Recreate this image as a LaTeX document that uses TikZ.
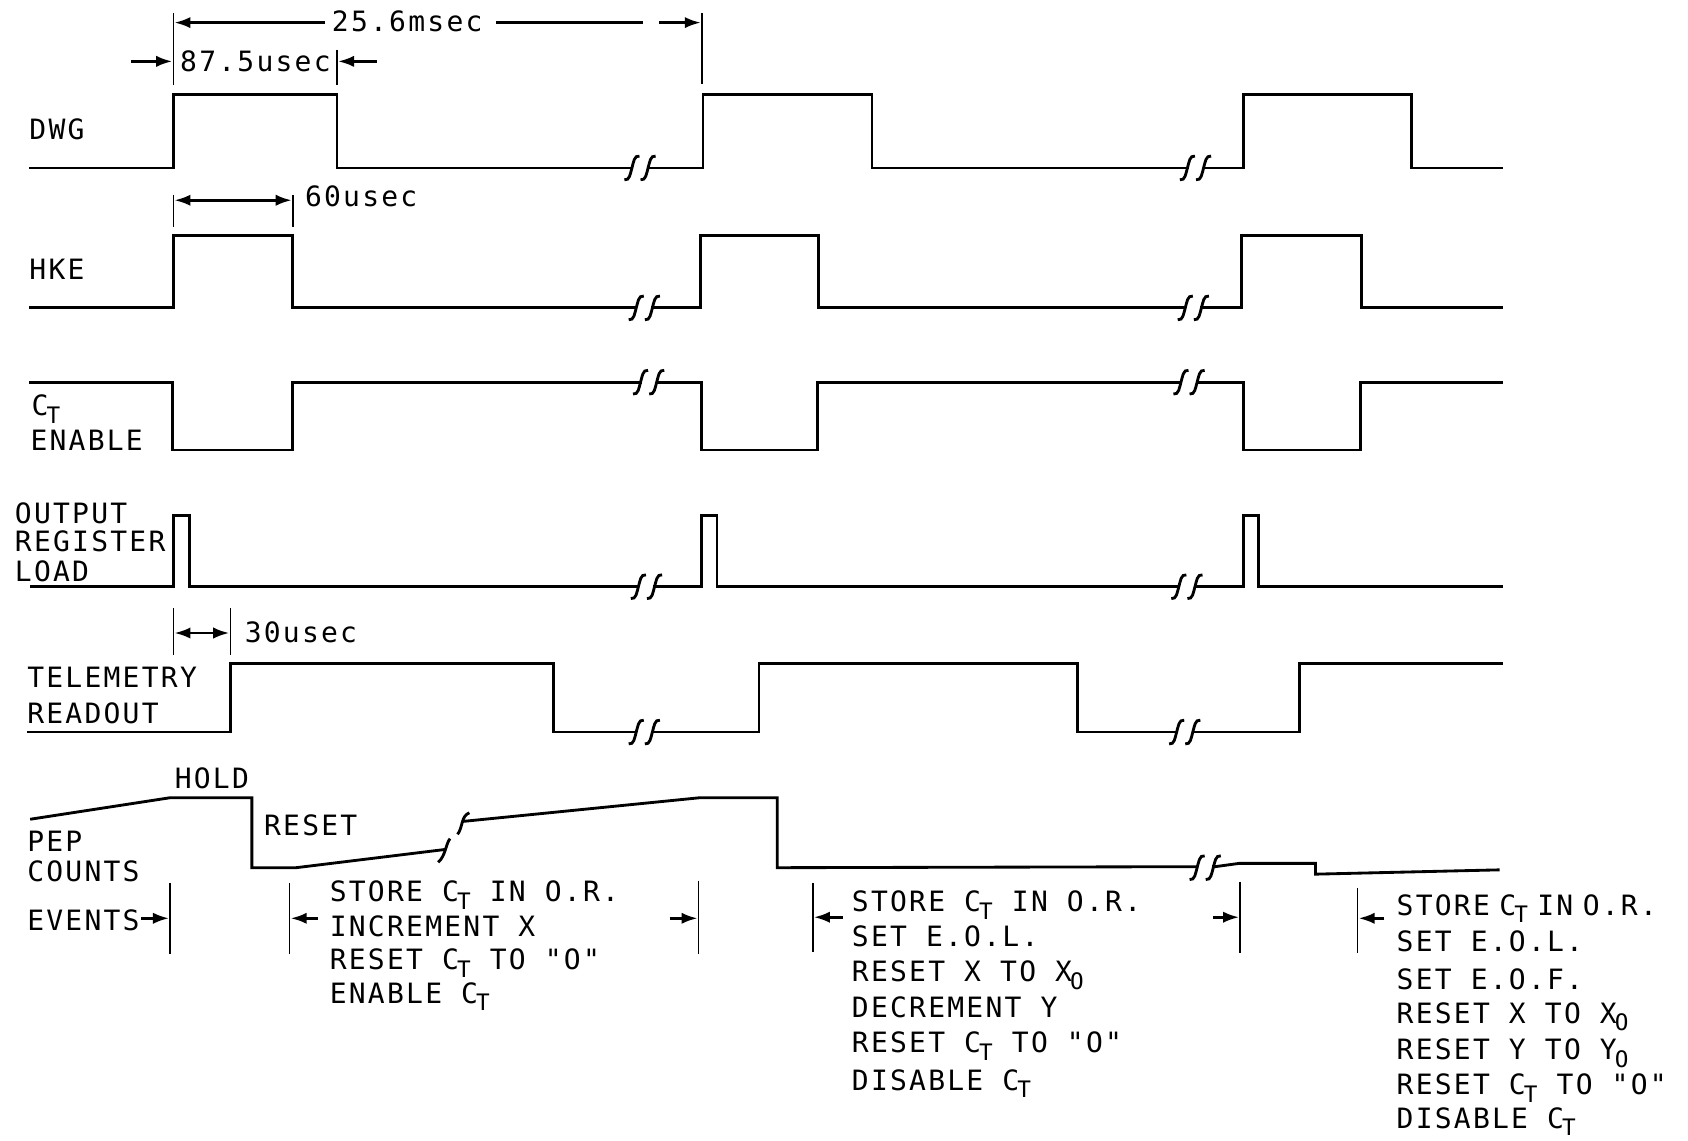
\documentclass[tikz,border=0pt]{standalone}
\usepackage{fontspec}
\newfontfamily\lettering[LetterSpace=8]{DejaVu Sans Mono}
\usetikzlibrary{arrows.meta}
\newcommand\lowsub[1]{\kern-1pt\raisebox{-4pt}{\fontsize{12}{12}\selectfont #1}}
\begin{document}
\begin{tikzpicture}[x=0.02cm,y=-0.02cm,
  wave/.style={line width=1.5pt},
  tickline/.style={line width=0.8pt},
  dimarrow/.style={line width=1.4pt,-{Latex[length=8.5pt,width=6pt]}},
  dimboth/.style={line width=1.4pt,{Latex[length=8.5pt,width=6pt]}-{Latex[length=8.5pt,width=6pt]}},
  lbl/.style={anchor=base west,inner sep=0pt,font=\lettering\fontsize{14.8}{16}\selectfont},
  breakmark/.pic={
    \fill[white] (-6,-3) rectangle (7,3);
    \draw[line width=1.5pt] (-14,11) .. controls (-9,12) and (-8.5,5) .. (-7,0) .. controls (-5.5,-5) and (-5,-12) .. (0,-11);
    \draw[line width=1.5pt] (1,11) .. controls (6,12) and (6.5,5) .. (8,0) .. controls (9.5,-5) and (10,-12) .. (15,-11);
  }]
\fill[white] (0,0) rectangle (1568,1059);
\useasboundingbox (0,0) rectangle (1568,1059);

% ---------------- waveforms ----------------
% DWG
\draw[wave] (27,156) -- (161,156) -- (161,88) -- (313,88) -- (313,156) -- (653,156) -- (653,88) -- (810,88) -- (810,156) -- (1155,156) -- (1155,88) -- (1311,88) -- (1311,156) -- (1396,156);
\pic at (594,156) {breakmark}; \pic at (1110,156) {breakmark};
% HKE
\draw[wave] (27,286) -- (161,286) -- (161,219) -- (272,219) -- (272,286) -- (651,286) -- (651,219) -- (760,219) -- (760,286) -- (1153,286) -- (1153,219) -- (1265,219) -- (1265,286) -- (1396,286);
\pic at (598,286) {breakmark}; \pic at (1108,286) {breakmark};
% CT ENABLE
\draw[wave] (27,355) -- (160,355) -- (160,418) -- (272,418) -- (272,355) -- (652,355) -- (652,418) -- (759,418) -- (759,355) -- (1155,355) -- (1155,418) -- (1264,418) -- (1264,355) -- (1396,355);
\pic at (602,355) {breakmark}; \pic at (1104,355) {breakmark};
% OUTPUT REGISTER LOAD
\draw[wave] (28,545) -- (161,545) -- (161,479) -- (176,479) -- (176,545) -- (652,545) -- (652,479) -- (666,479) -- (666,545) -- (1155,545) -- (1155,479) -- (1169,479) -- (1169,545) -- (1396,545);
\pic at (600,545) {breakmark}; \pic at (1102,545) {breakmark};
% TELEMETRY READOUT
\draw[wave] (25,680) -- (214,680) -- (214,616) -- (514,616) -- (514,680) -- (705,680) -- (705,616) -- (1001,616) -- (1001,680) -- (1207,680) -- (1207,616) -- (1396,616);
\pic at (598,680) {breakmark}; \pic at (1100,680) {breakmark};
% PEP COUNTS
\draw[wave] (28,761) -- (158,741) -- (234,741) -- (234,806) -- (275,806) -- (414,789);
\draw[wave] (418,779) .. controls (414,784) and (414,795) .. (407,801);
\draw[wave] (425,775) .. controls (430,769) and (428,758) .. (436,755);
\draw[wave] (430,763) -- (650,741) -- (722,741) -- (722,806) -- (1129,805) -- (1151,802) -- (1222,802) -- (1222,812) -- (1393,808);
\pic at (1119,806) {breakmark};

% ---------------- dimension ticks ----------------
\draw[tickline] (161,12) -- (161,79);
\draw[tickline] (652,12) -- (652,78);
\draw[tickline] (313,46) -- (313,79);
\draw[tickline] (161,181) -- (161,211);
\draw[tickline] (272,181) -- (272,211);
\draw[tickline] (161,565) -- (161,608);
\draw[tickline] (214,565) -- (214,608);
\draw[tickline] (158,820) -- (158,886);
\draw[tickline] (269,820) -- (269,886);
\draw[tickline] (649,818) -- (649,886);
\draw[tickline] (755,820) -- (755,884);
\draw[tickline] (1152,819) -- (1152,885);
\draw[tickline] (1261,825) -- (1261,885);

% ---------------- dimension arrows ----------------
\draw[dimarrow] (302,21) -- (162,21);
\draw[line width=1.4pt] (461,21) -- (597,21);
\draw[dimarrow] (612,21) -- (651,21);
\draw[dimarrow] (122,57) -- (160,57);
\draw[dimarrow] (350,57) -- (314,57);
\draw[dimboth] (162,186) -- (271,186);
\draw[dimboth] (162,588) -- (213,588);
\draw[dimarrow] (131,853) -- (157,853);
\draw[dimarrow] (295,853) -- (270,853);
\draw[dimarrow] (622,853) -- (648,853);
\draw[dimarrow] (783,852) -- (756,852);
\draw[dimarrow] (1127,852) -- (1151,852);
\draw[dimarrow] (1286,853) -- (1262,853);

% ---------------- texts ----------------
\node[lbl] (t256) at (308,29.5) {25.6msec};
\node[lbl] (t875) at (167,66) {87.5usec};
\node[lbl] (t60) at (283,192) {60usec};
\node[lbl] (t30) at (227,597) {30usec};

\node[lbl] (ldwg) at (27,129.5) {DWG};
\node[lbl] (lhke) at (27,260) {HKE};
\node[lbl] (lct) at (29,386) {C\lowsub{T}};
\node[lbl] (lenable) at (28,418) {ENABLE};
\node[lbl] (lout) at (13.5,486) {OUTPUT};
\node[lbl] (lreg) at (13.5,512.5) {REGISTER};
\node[lbl] (lload) at (13.5,540) {LOAD};
\node[lbl] (ltel) at (25,639) {TELEMETRY};
\node[lbl] (lread) at (25,672) {READOUT};
\node[lbl] (lhold) at (162,732) {HOLD};
\node[lbl] (lreset) at (245,776) {RESET};
\node[lbl] (lpep) at (25,791) {PEP};
\node[lbl] (lcounts) at (25,819) {COUNTS};
\node[lbl] (levents) at (25,864) {EVENTS};

\node[lbl] (a1) at (306,837.5) {STORE C\lowsub{T} IN O.R.};
\node[lbl] (a2) at (306,870) {INCREMENT X};
\node[lbl] (a3) at (306,901) {RESET C\lowsub{T} TO "O"};
\node[lbl] (a4) at (306,932) {ENABLE C\lowsub{T}};

\node[lbl] (b1) at (791,847) {STORE C\lowsub{T} IN O.R.};
\node[lbl] (b2) at (791,879.5) {SET E.O.L.};
\node[lbl] (b3) at (791,912) {RESET X TO X\lowsub{O}};
\node[lbl] (b4) at (791,945.5) {DECREMENT Y};
\node[lbl] (b5) at (791,978) {RESET C\lowsub{T} TO "O"};
\node[lbl] (b6) at (791,1012.5) {DISABLE C\lowsub{T}};

\node[lbl] (c1) at (1297,850) {STORE\hspace{5pt}C\lowsub{T}\hspace{5pt}IN\hspace{5pt}O.R.};
\node[lbl] (c2) at (1297,884) {SET E.O.L.};
\node[lbl] (c3) at (1297,919.5) {SET E.O.F.};
\node[lbl] (c4) at (1297,950.5) {RESET X TO X\lowsub{O}};
\node[lbl] (c5) at (1297,984.5) {RESET Y TO Y\lowsub{O}};
\node[lbl] (c6) at (1297,1017) {RESET C\lowsub{T} TO "O"};
\node[lbl] (c7) at (1297,1048) {DISABLE C\lowsub{T}};
\end{tikzpicture}
\end{document}
